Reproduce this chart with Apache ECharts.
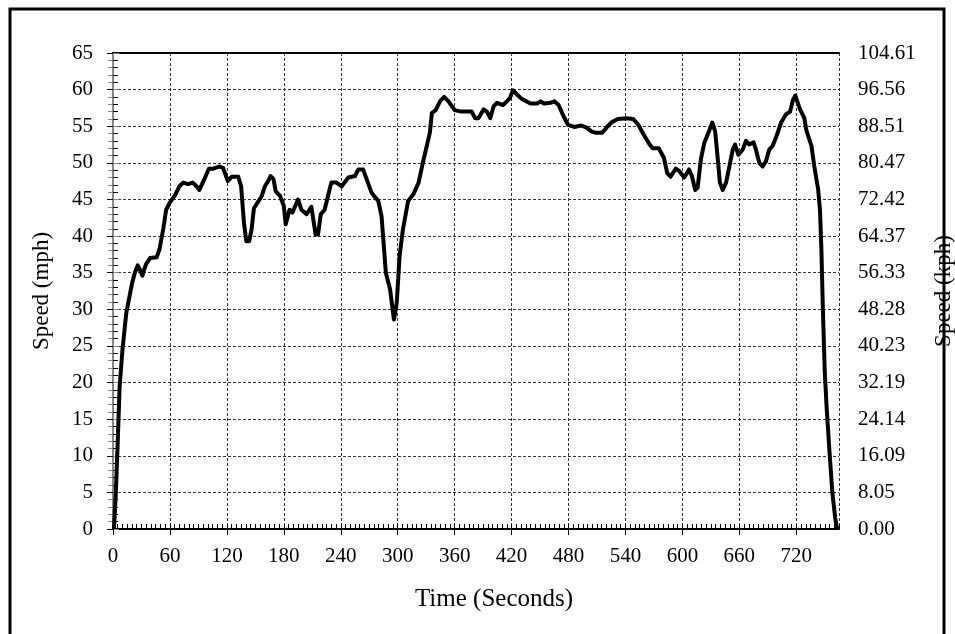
<!DOCTYPE html>
<html>
<head>
<meta charset="utf-8">
<script src="https://cdn.jsdelivr.net/npm/echarts@6/dist/echarts.min.js"></script>
<style>
  html, body { margin: 0; padding: 0; background: #fff; }
  #speedChart { width: 955px; height: 634px; }
</style>
</head>
<body>
<div id="speedChart"></div>
<script>
// drive cycle: time in seconds, speed in mph
const timeSec = [1, 3, 5, 7, 10, 12, 14, 17, 20, 23, 26, 28, 31, 33, 35, 39, 46, 49, 53, 56,
  60, 65, 70, 74, 79, 84, 88, 91, 96, 101, 106, 112, 116, 121, 125, 132, 135, 138, 140.5, 143.5,
  146, 148.5, 153, 156.5, 160, 163.5, 166, 169, 171.5, 176, 180, 182, 186, 189, 195, 198.5, 204, 209, 213.5, 216,
  219, 223, 230, 235.5, 241, 248, 255, 258.5, 263.5, 268, 272.5, 279.5, 283, 287.5, 292, 296, 299, 302, 305.5, 311,
  316.5, 322, 327, 331, 334, 336, 340, 344.5, 349, 353.5, 360, 367, 378, 381.5, 385, 390.5, 394, 397.5, 401, 404.5,
  411, 415, 418, 421.5, 426, 431, 440, 447, 450.5, 454, 461, 465, 469.5, 475, 479.5, 486, 493.5, 499, 504, 509,
  515.5, 520, 525, 532, 541, 548, 553.5, 559, 564.5, 568.5, 575, 580.5, 584, 587.5, 593, 596.5, 602, 607, 610, 613.5,
  616, 619.5, 623, 628, 631.5, 634.5, 637, 639.5, 642.5, 646, 649.5, 653, 655.5, 659, 663.5, 667, 670.5, 675, 677.5, 681,
  684.5, 688, 691.5, 695, 699, 704, 709, 713.5, 716.5, 719, 721.5, 724, 728.5, 730.5, 736, 739, 743, 745, 746.5, 748,
  750, 752, 755, 758, 761, 763];
const speedMph = [0, 5, 12, 19.5, 24.5, 27, 29.5, 31.5, 33.5, 35, 36, 35.5, 34.6, 35.5, 36.2, 37, 37.1, 38.2, 41, 43.6,
  44.6, 45.5, 46.8, 47.3, 47.1, 47.3, 46.8, 46.3, 47.7, 49.2, 49.2, 49.5, 49.3, 47.5, 48.1, 48.1, 46.8, 41.8, 39.3, 39.3,
  40.9, 43.8, 44.7, 45.4, 46.8, 47.5, 48.2, 47.8, 46.1, 45.5, 44.1, 41.6, 43.6, 43.2, 45, 43.6, 43, 44, 40.2, 40.2,
  43, 43.6, 47.3, 47.3, 46.8, 48, 48.2, 49.1, 49.1, 47.5, 45.9, 44.8, 42.7, 35, 32.7, 28.6, 30.9, 37.3, 40.9, 44.8,
  45.7, 47.3, 50.3, 52.5, 54.2, 56.8, 57.2, 58.4, 59, 58.4, 57.2, 57, 57, 56.1, 56.1, 57.3, 57, 56.1, 57.7, 58.2,
  57.9, 58.4, 58.8, 59.9, 59.3, 58.7, 58.1, 58.1, 58.4, 58.1, 58.2, 58.4, 57.9, 56.3, 55.2, 54.9, 55.1, 54.8, 54.3, 54.1,
  54.1, 54.8, 55.5, 56, 56.1, 56, 55.2, 53.9, 52.7, 52, 52, 50.7, 48.6, 48.1, 49.2, 48.9, 48, 49.1, 48.2, 46.3,
  46.6, 50.5, 52.7, 54.3, 55.5, 54.3, 50.9, 47.3, 46.3, 47.3, 49.5, 51.8, 52.5, 51.1, 51.8, 53, 52.5, 52.8, 51.8, 50,
  49.5, 50.2, 51.8, 52.3, 53.6, 55.5, 56.6, 57, 58.6, 59.2, 58.2, 57.3, 56.1, 54.5, 52.3, 49.5, 46.4, 43.5, 38, 30,
  21.5, 16.5, 10.5, 5, 1.5, 0];

const MPH_TO_KPH = 1.609344;
const font = 'Liberation Serif';

const chart = echarts.init(document.getElementById('speedChart'));

const points = timeSec.map((t, i) => [t, speedMph[i]]);

chart.setOption({
  animation: false,
  backgroundColor: '#fff',
  textStyle: { fontFamily: font, color: '#000' },
  graphic: [{
    type: 'rect',
    shape: { x: 10, y: 9, width: 934, height: 640 },
    style: { fill: 'none', stroke: '#000', lineWidth: 3 },
    z: -1
  }],
  grid: { left: 113, right: 116, top: 53, bottom: 105, outerBoundsMode: 'none', containLabel: false },
  xAxis: [{
    type: 'value',
    min: 0,
    max: 765,
    interval: 60,
    name: 'Time (Seconds)',
    nameLocation: 'middle',
    nameGap: 58,
    // title sits a little right of the plot centre in the original
    nameTextStyle: { fontFamily: font, fontSize: 25, color: '#000', padding: [0, 0, 0, 36] },
    axisLine: { lineStyle: { color: '#000', width: 2 } },
    axisTick: { inside: false, length: 6, lineStyle: { color: '#000' } },
    axisLabel: { showMaxLabel: false, margin: 17, fontFamily: font, fontSize: 21, color: '#000' },
    splitLine: { show: true, lineStyle: { color: '#333', width: 1, type: [3, 2] } }
  }, {
    // minor ticks every 5 s
    type: 'value',
    min: 0,
    max: 765,
    interval: 5,
    position: 'bottom',
    axisLine: { show: false },
    axisTick: { inside: true, length: 5, lineStyle: { color: '#000' } },
    axisLabel: { show: false },
    splitLine: { show: false }
  }, {
    // top border of the plot
    type: 'value',
    min: 0,
    max: 765,
    position: 'top',
    axisLine: { lineStyle: { color: '#000', width: 2 } },
    axisTick: { show: false },
    axisLabel: { show: false },
    splitLine: { show: false }
  }],
  yAxis: [{
    type: 'value',
    min: 0,
    max: 65,
    interval: 5,
    position: 'left',
    name: 'Speed (mph)',
    nameLocation: 'middle',
    nameRotate: 90,
    nameGap: 60,
    nameTextStyle: { fontFamily: font, fontSize: 23, color: '#000' },
    axisLine: { lineStyle: { color: '#000', width: 2 } },
    axisTick: { length: 6, lineStyle: { color: '#000' } },
    minorTick: { show: true, splitNumber: 5, length: -5, lineStyle: { color: '#000' } },
    axisLabel: { margin: 20, fontFamily: font, fontSize: 21, color: '#000' },
    splitLine: { show: true, lineStyle: { color: '#333', width: 1, type: [3, 2] } }
  }, {
    type: 'value',
    min: 0,
    max: 65,
    interval: 5,
    position: 'right',
    name: 'Speed (kph)',
    nameLocation: 'middle',
    nameRotate: 90,
    nameGap: 93,
    nameTextStyle: { fontFamily: font, fontSize: 23, color: '#000' },
    axisLine: { lineStyle: { color: '#888', width: 2 } },
    axisTick: { length: 6, lineStyle: { color: '#888' } },
    minorTick: { show: true, splitNumber: 5, length: -5, lineStyle: { color: '#888' } },
    axisLabel: {
      margin: 19, fontFamily: font, fontSize: 21, color: '#000',
      formatter: v => (v * MPH_TO_KPH).toFixed(2)
    },
    splitLine: { show: false }
  }],
  series: [{
    type: 'line',
    data: points,
    showSymbol: false,
    symbol: 'none',
    lineStyle: { color: '#000', width: 4, join: 'round' },
    z: 10
  }]
});
</script>
</body>
</html>
